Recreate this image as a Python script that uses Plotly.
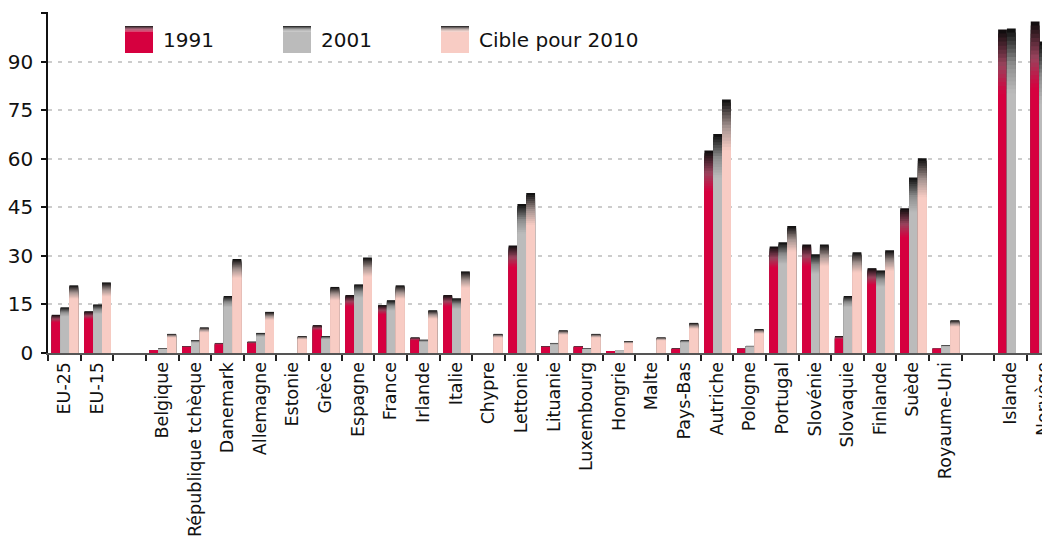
import plotly.graph_objects as go

categories = ["EU-25", "EU-15", " ", "Belgique", "République tchèque", "Danemark",
              "Allemagne", "Estonie", "Grèce", "Espagne", "France", "Irlande", "Italie",
              "Chypre", "Lettonie", "Lituanie", "Luxembourg", "Hongrie", "Malte",
              "Pays-Bas", "Autriche", "Pologne", "Portugal", "Slovénie", "Slovaquie",
              "Finlande", "Suède", "Royaume-Uni", "  ", "Islande", "Norvège"]

v1991 = [11.8, 12.9, None, 0.9, 2.1, 3.1, 3.5, 0, 8.6, 17.9, 14.8, 4.8, 17.9, 0, 33.2,
         2.1, 2.1, 0.6, 0, 1.4, 62.5, 1.5, 32.9, 33.5, 5.2, 26.2, 44.7, 1.5, None, 99.9, 102.4]
v2001 = [14.1, 15.0, None, 1.4, 3.9, 17.6, 6.2, 0, 5.2, 21.2, 16.3, 4.1, 16.9, 0, 46.0,
         3.1, 1.4, 0.9, 0, 3.9, 67.6, 2.2, 34.2, 30.5, 17.6, 25.5, 54.2, 2.4, None, 100.2, 96.2]
target = [20.9, 21.8, None, 5.9, 7.9, 29.0, 12.7, 5.2, 20.4, 29.5, 20.9, 13.2, 25.2, 5.9, 49.4,
          7.0, 5.9, 3.6, 4.8, 9.3, 78.3, 7.4, 39.2, 33.5, 31.1, 31.7, 60.1, 10.1, None, None, None]

series_names = ["1991", "2001", "Cible pour 2010"]
series_values = [v1991, v2001, target]
series_colors = ["#d6003f", "#bbbbbb", "#f8ccc4"]

y_ticks = [0, 15, 30, 45, 60, 75, 90, 105]
y_ticktext = ["0", "15", "30", "45", "60", "75", "90", ""]

FONT = "DejaVu Sans"
SOLID_FRAC = 0.8
NSEG = 16
BAR_W = 0.27
OFFSETS = [-0.385, -0.115, 0.155]


def hex2rgb(h):
    h = h.lstrip("#")
    return [int(h[i:i + 2], 16) for i in (0, 2, 4)]


def mix(a, b, t):
    return [a[i] * (1 - t) + b[i] * t for i in range(3)]


def grad_color(base_hex, t):
    base = hex2rgb(base_hex)
    mid = mix(base, [112, 112, 112], 0.6)
    dark = [10, 10, 10]
    if t < 0.45:
        c = mix(base, mid, t / 0.45)
    else:
        c = mix(mid, dark, (t - 0.45) / 0.55)
    return "rgb(%d,%d,%d)" % tuple(int(round(x)) for x in c)


fig = go.Figure()

# Each bar: overlaid layers from 0, tallest (darkest top) first, solid colour last.
for name, vals, col, off in zip(series_names, series_values, series_colors, OFFSETS):
    for k in reversed(range(NSEG)):
        frac = SOLID_FRAC + (1 - SOLID_FRAC) * (k + 1) / NSEG
        h = [None if v is None else v * frac for v in vals]
        t = (k + 0.5) / NSEG
        fig.add_trace(go.Bar(x=categories, y=h, marker_color=grad_color(col, t),
                             marker_line_width=0, width=BAR_W, offset=off, showlegend=False,
                             hoverinfo="skip"))
    solid = [None if v is None else v * SOLID_FRAC for v in vals]
    fig.add_trace(go.Bar(x=categories, y=solid, name=name, marker_color=col,
                         marker_line_width=0, width=BAR_W, offset=off, showlegend=False))

# Layout geometry (figure pixels; the page adds an 8px body margin)
PAGE_OFF = 8
W, H = 1050, 540
L, R, T, B = 40, 0, 4, 195
PW = W - L - R
PH = H - T - B


def px_x(sx):
    return (sx - PAGE_OFF - L) / PW


def px_y(sy):
    return (H - B - (sy - PAGE_OFF)) / PH


shapes = []
annotations = []
legend_x = [125, 283, 441]
for name, col, lx in zip(series_names, series_colors, legend_x):
    top, bottom, gtop = 26, 53, 31.5
    shapes.append(dict(type="rect", xref="paper", yref="paper", x0=px_x(lx), x1=px_x(lx + 28),
                       y0=px_y(bottom), y1=px_y(gtop), fillcolor=col, line_width=0, layer="above"))
    n = 6
    for k in range(n):
        y0 = gtop - (gtop - top) * k / n
        y1 = gtop - (gtop - top) * (k + 1) / n
        shapes.append(dict(type="rect", xref="paper", yref="paper", x0=px_x(lx), x1=px_x(lx + 28),
                           y0=px_y(y0), y1=px_y(y1), fillcolor=grad_color(col, (k + 0.5) / n),
                           line_width=0, layer="above"))
    annotations.append(dict(text=name, xref="paper", yref="paper", x=px_x(lx + 36), y=px_y(40),
                            xanchor="left", yanchor="middle", showarrow=False,
                            font=dict(family=FONT, size=20, color="#111111")))

fig.update_layout(
    width=W, height=H,
    margin=dict(l=L, r=R, t=T, b=B, autoexpand=False),
    barmode="overlay",
    plot_bgcolor="white", paper_bgcolor="white",
    font=dict(family=FONT, color="#111111"),
    showlegend=False,
    shapes=shapes,
    annotations=annotations,
    xaxis=dict(
        type="category",
        categoryorder="array", categoryarray=categories,
        range=[-0.5, 30.45],
        tickson="boundaries",
        ticks="outside", ticklen=6, tickcolor="#222222", tickwidth=1.5,
        showline=True, linecolor="#555555", linewidth=2,
        showgrid=False,
        tickangle=-90,
        automargin=False,
        tickfont=dict(family=FONT, size=17.5, color="#111111"),
    ),
    yaxis=dict(
        range=[0, 105.3],
        tickvals=y_ticks, ticktext=y_ticktext,
        ticks="outside", ticklen=5, tickcolor="#111111", tickwidth=1.5,
        showline=True, linecolor="#111111", linewidth=1.5,
        showgrid=True, gridcolor="#cccccc", gridwidth=1.5, griddash="4px,6px",
        zeroline=False,
        automargin=False,
        tickfont=dict(family=FONT, size=20, color="#111111"),
        ticklabelstandoff=4,
    ),
)

fig.write_html("out.html")
